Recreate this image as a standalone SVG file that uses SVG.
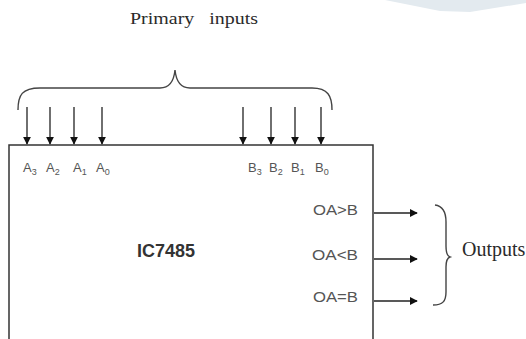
<svg xmlns="http://www.w3.org/2000/svg" width="526" height="339" viewBox="0 0 526 339">
<style>
.ln{stroke:#333;stroke-width:1.5;fill:none}
.br{stroke:#444;stroke-width:1.4;fill:none}
.ser{font-family:"Liberation Serif","DejaVu Serif",serif;fill:#2a2a2a}
.pin{font-family:"Liberation Sans","DejaVu Sans",sans-serif;fill:#555;font-size:13px}
.sub{font-size:9px}
.out{font-family:"Liberation Sans","DejaVu Sans",sans-serif;fill:#555;font-size:14px}
.chip{font-family:"Liberation Sans","DejaVu Sans",sans-serif;fill:#333;font-size:18px;font-weight:bold}
</style>
<defs>
<marker id="ahd" viewBox="0 0 10 10" refX="9" refY="5" markerWidth="8" markerHeight="8" orient="auto" markerUnits="userSpaceOnUse">
<path d="M0,0 L10,5 L0,10 z" fill="#111"/>
</marker>
</defs>
<rect width="526" height="339" fill="#fff"/>
<polygon points="385,0 440,11 470,12 526,3 526,0" fill="#e3eaef"/>
<g id="primary-inputs">
<text class="ser" x="130" y="24" font-size="17" textLength="128" lengthAdjust="spacingAndGlyphs" xml:space="preserve">Primary   inputs</text>
<path class="br" d="M18,110 C18,95 22,88 40,88 L160,88 C170,88 174,80 175,70 C176,80 180,88 190,88 L312,88 C328,88 332,96 332,110"/>
</g>
<g id="ic7485">
<path class="ln" d="M9,339 L9,145 L373,145 L373,339"/>
<text class="chip" x="137" y="257" textLength="58" lengthAdjust="spacingAndGlyphs">IC7485</text>
<text class="pin" x="23" y="172">A<tspan class="sub" dy="3">3</tspan></text>
<text class="pin" x="46" y="172">A<tspan class="sub" dy="3">2</tspan></text>
<text class="pin" x="73" y="172">A<tspan class="sub" dy="3">1</tspan></text>
<text class="pin" x="96" y="172">A<tspan class="sub" dy="3">0</tspan></text>
<text class="pin" x="248" y="172">B<tspan class="sub" dy="3">3</tspan></text>
<text class="pin" x="269" y="172">B<tspan class="sub" dy="3">2</tspan></text>
<text class="pin" x="291" y="172">B<tspan class="sub" dy="3">1</tspan></text>
<text class="pin" x="315" y="172">B<tspan class="sub" dy="3">0</tspan></text>
<text class="out" x="313" y="215" textLength="45" lengthAdjust="spacingAndGlyphs">OA&gt;B</text>
<text class="out" x="312" y="260" textLength="46" lengthAdjust="spacingAndGlyphs">OA&lt;B</text>
<text class="out" x="313" y="302" textLength="45" lengthAdjust="spacingAndGlyphs">OA=B</text>
</g>
<g id="outputs">
<path class="br" d="M435,205 C443,206 446,212 446,222 L446,246 C446,252 447,256 450,257 C447,258 446,261 446,267 L446,292 C446,301 443,305 433,305"/>
<text class="ser" x="462" y="256" font-size="20">Outputs</text>
</g>
<g id="connectors" stroke="#222" stroke-width="1.3" fill="none">
<line x1="27" y1="107" x2="27" y2="144" marker-end="url(#ahd)"/>
<line x1="50" y1="107" x2="50" y2="144" marker-end="url(#ahd)"/>
<line x1="74" y1="107" x2="74" y2="144" marker-end="url(#ahd)"/>
<line x1="102" y1="107" x2="102" y2="144" marker-end="url(#ahd)"/>
<line x1="243" y1="107" x2="243" y2="144" marker-end="url(#ahd)"/>
<line x1="271" y1="107" x2="271" y2="144" marker-end="url(#ahd)"/>
<line x1="295" y1="107" x2="295" y2="144" marker-end="url(#ahd)"/>
<line x1="321" y1="107" x2="321" y2="144" marker-end="url(#ahd)"/>
<line x1="374" y1="213" x2="417" y2="213" marker-end="url(#ahd)"/>
<line x1="374" y1="259" x2="417" y2="259" marker-end="url(#ahd)"/>
<line x1="374" y1="301" x2="417" y2="301" marker-end="url(#ahd)"/>
</g>
</svg>
